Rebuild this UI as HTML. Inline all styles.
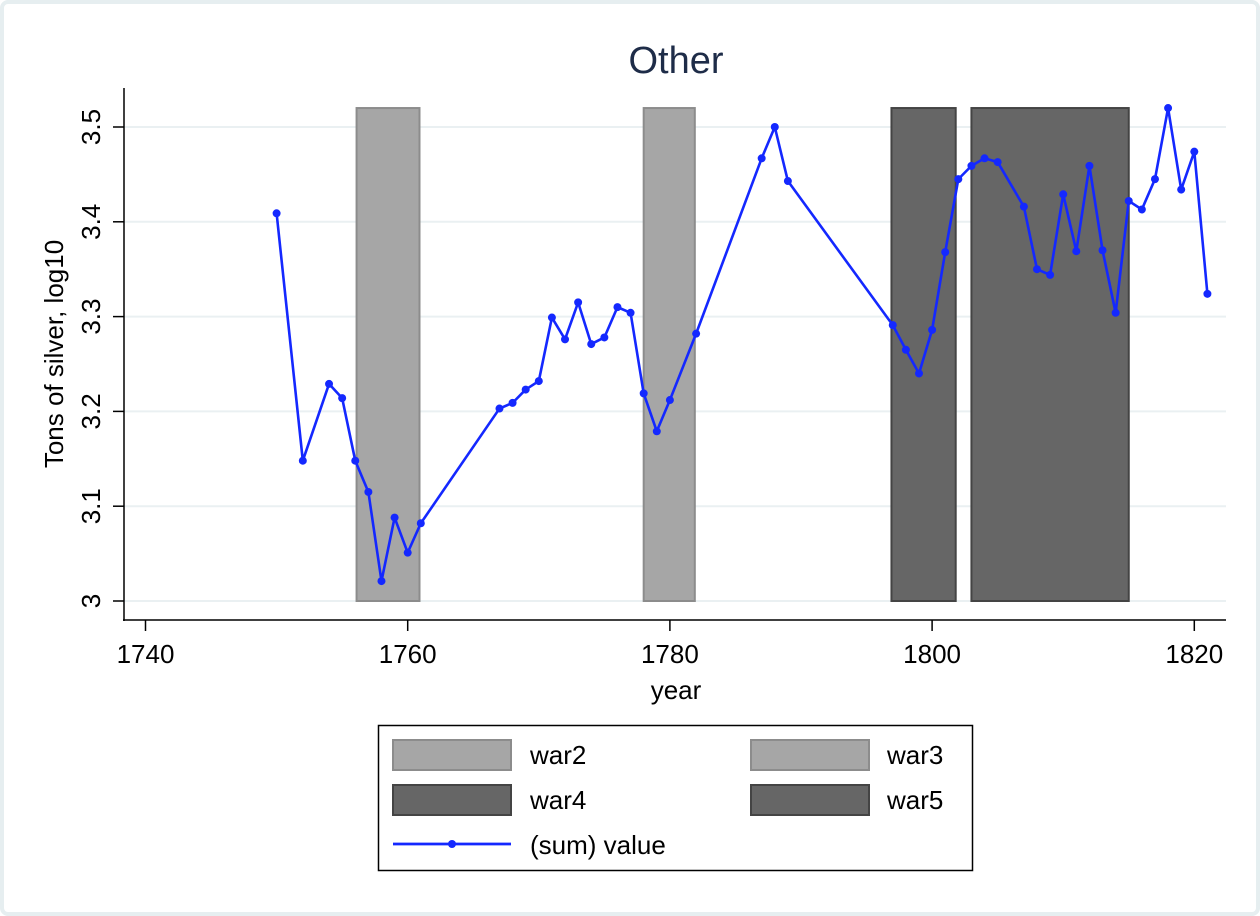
<!DOCTYPE html>
<html><head><meta charset="utf-8"><style>
html,body{margin:0;padding:0;background:#fff;}
svg{display:block;font-family:"Liberation Sans",Arial,sans-serif;}
</style></head><body>
<svg id="chart" width="1260" height="916" viewBox="0 0 1260 916" xmlns="http://www.w3.org/2000/svg">
<rect x="2" y="2" width="1256" height="912" rx="6" fill="#fff" stroke="#e6eef0" stroke-width="4"/>
<text x="676" y="73" font-size="38" fill="#1e2c48" text-anchor="middle">Other</text>
<g id="grid"></g>
<g id="bars"></g>
<g id="series"></g>
<g id="axes"></g>
<text x="676" y="699" font-size="26" text-anchor="middle">year</text>
<text transform="translate(63,354) rotate(-90)" font-size="26" text-anchor="middle">Tons of silver, log10</text>
<g>
<rect x="378.5" y="725.5" width="594" height="145" fill="#fff" stroke="#000" stroke-width="1.5"/>
<g><rect x="393" y="740" width="118" height="30" fill="#a6a6a6" stroke="#8c8c8c" stroke-width="2"/><text x="530" y="764" font-size="26">war2</text></g>
<g><rect x="751" y="740" width="118" height="30" fill="#a6a6a6" stroke="#8c8c8c" stroke-width="2"/><text x="887" y="764" font-size="26">war3</text></g>
<g><rect x="393" y="785" width="118" height="30" fill="#666" stroke="#444" stroke-width="2"/><text x="530" y="809" font-size="26">war4</text></g>
<g><rect x="751" y="785" width="118" height="30" fill="#666" stroke="#444" stroke-width="2"/><text x="887" y="809" font-size="26">war5</text></g>
<g><line x1="393" y1="844" x2="511" y2="844" stroke="#1428ff" stroke-width="2.8"/><circle cx="452" cy="844" r="4" fill="#1428ff"/><text x="530" y="854" font-size="26">(sum) value</text></g>
</g>
</svg>
<script>
const years=[1750,1752,1754,1755,1756,1757,1758,1759,1760,1761,1767,1768,1769,1770,1771,1772,1773,1774,1775,1776,1777,1778,1779,1780,1782,1787,1788,1789,1797,1798,1799,1800,1801,1802,1803,1804,1805,1807,1808,1809,1810,1811,1812,1813,1814,1815,1816,1817,1818,1819,1820,1821];
const values=[3.409,3.148,3.229,3.214,3.148,3.115,3.021,3.088,3.051,3.082,3.203,3.209,3.223,3.232,3.299,3.276,3.315,3.271,3.278,3.310,3.304,3.219,3.179,3.212,3.282,3.467,3.500,3.443,3.291,3.265,3.240,3.286,3.368,3.445,3.459,3.467,3.463,3.416,3.350,3.344,3.429,3.369,3.459,3.370,3.304,3.422,3.413,3.445,3.520,3.434,3.474,3.324];
const warNames=["war2","war3","war4","war5"];
const warStart=[1756.1,1778,1796.9,1803];
const warEnd=[1760.9,1781.9,1801.8,1815];
const warTop=3.52;
const xTicks=[1740,1760,1780,1800,1820];
const yTicks=[3,3.1,3.2,3.3,3.4,3.5];
const yTickLabels=["3","3.1","3.2","3.3","3.4","3.5"];
const NS="http://www.w3.org/2000/svg";
const X=v=>145.5+(v-1740)*13.11;
const Y=v=>601-(v-3)*948;
function mk(tag,attrs,parent){const e=document.createElementNS(NS,tag);for(const k in attrs)e.setAttribute(k,attrs[k]);parent.appendChild(e);return e;}
const grid=document.getElementById('grid'),bars=document.getElementById('bars'),ser=document.getElementById('series'),axes=document.getElementById('axes');
yTicks.forEach((t,i)=>{
  const l=mk('line',{x1:124,x2:1226,y1:Y(t),y2:Y(t),stroke:'#eaf0f2','stroke-width':2},grid);
  
  
  const tk=mk('line',{x1:113,x2:124,y1:Y(t),y2:Y(t),stroke:'#000','stroke-width':1.5},axes);
  
  
  const tx=mk('text',{transform:`translate(100,${Y(t)}) rotate(-90)`,'font-size':26,'text-anchor':'middle'},axes);
  
  
  tx.textContent=yTickLabels[i];
});
warNames.forEach((n,i)=>{
  const light=i<2;
  const r=mk('rect',{x:X(warStart[i]),y:Y(warTop),width:X(warEnd[i])-X(warStart[i]),height:Y(3)-Y(warTop),fill:light?'#a6a6a6':'#666',stroke:light?'#8c8c8c':'#444','stroke-width':2},bars);
  
  
});
const pts=years.map((y,i)=>X(y)+','+Y(values[i])).join(' ');
const pl=mk('polyline',{points:pts,fill:'none',stroke:'#1428ff','stroke-width':2.6,'stroke-linejoin':'round'},ser);


years.forEach((y,i)=>{
  const c=mk('circle',{cx:X(y),cy:Y(values[i]),r:4,fill:'#1428ff'},ser);
  
  
});
const ya=mk('line',{x1:124,x2:124,y1:88,y2:621,stroke:'#000','stroke-width':1.5},axes);


const xa=mk('line',{x1:123,x2:1226,y1:620,y2:620,stroke:'#000','stroke-width':1.5},axes);


xTicks.forEach(t=>{
  const tk=mk('line',{x1:X(t),x2:X(t),y1:620,y2:631,stroke:'#000','stroke-width':1.5},axes);
  
  
  const tx=mk('text',{x:X(t),y:663,'font-size':26,'text-anchor':'middle'},axes);
  
  
  tx.textContent=t;
});
</script>
</body></html>
